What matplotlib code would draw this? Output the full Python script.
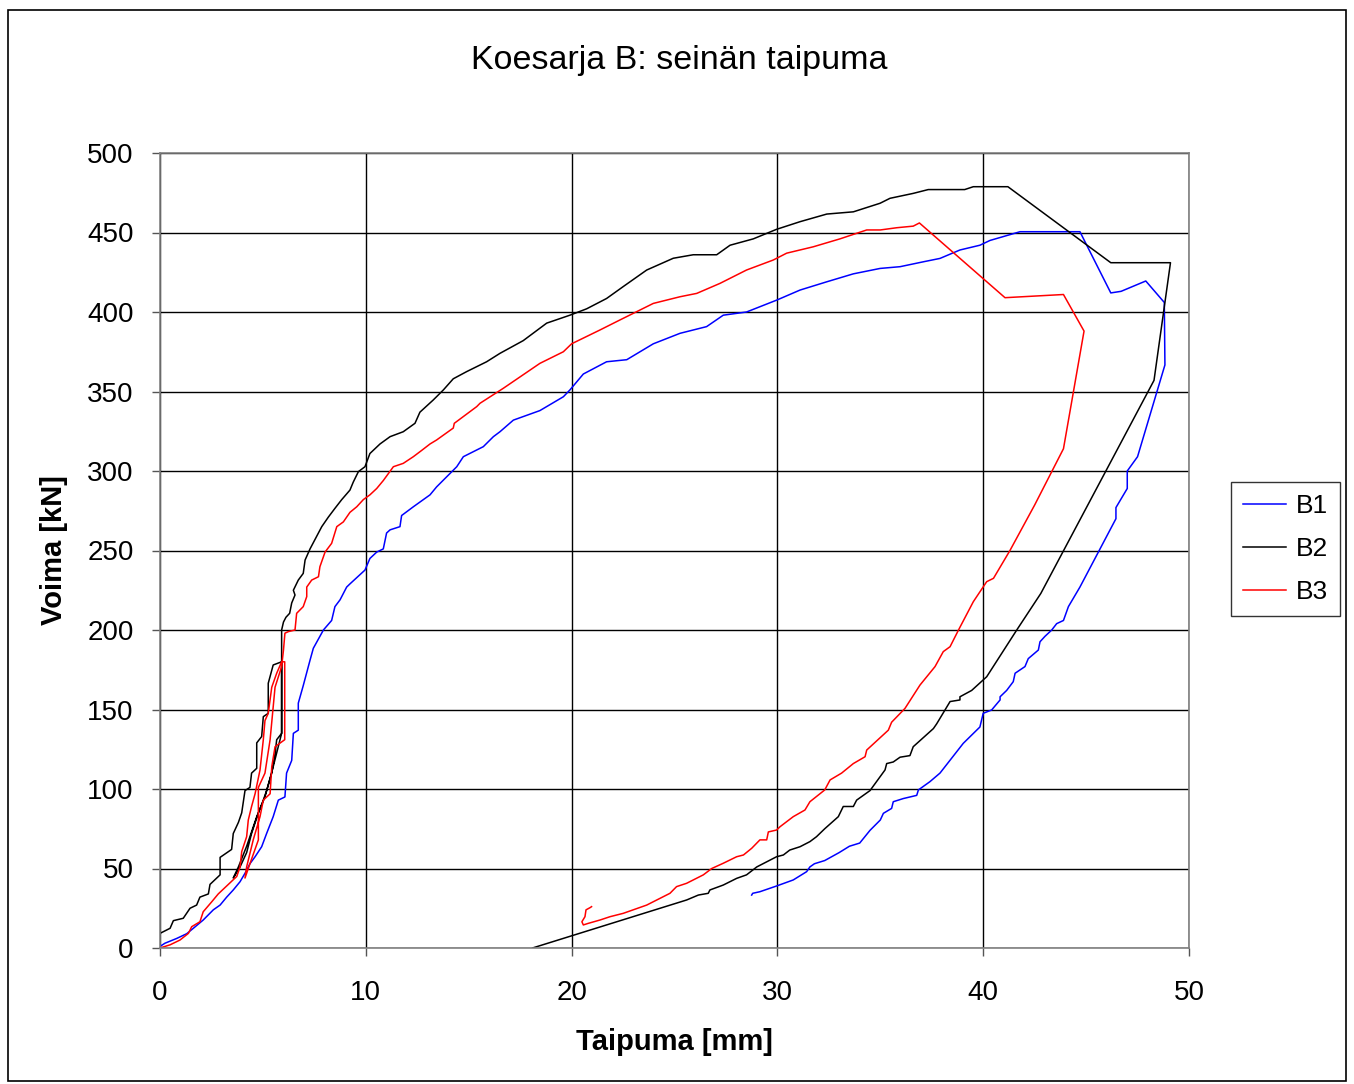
import matplotlib
matplotlib.use("Agg")
import matplotlib.pyplot as plt
from matplotlib.patches import Rectangle

plt.rcParams['font.family'] = ['Liberation Sans', 'DejaVu Sans']

# ---- data ----
b1_x = [0, 0.24, 0.81, 1.3, 1.62, 2.1, 2.59, 2.92, 3.24, 3.56, 3.89, 4.13, 4.37, 4.62, 4.94, 5.18, 5.5, 5.75,
        6.07, 6.15, 6.4, 6.48, 6.72, 6.72, 6.96, 7.29, 7.45, 7.94, 8.34, 8.5, 8.75, 9.07, 9.23, 9.96, 10.2, 10.53,
        10.85, 11.01, 11.18, 11.66, 11.74, 12.31, 13.12, 13.44, 14.42, 14.74, 15.71, 16.2, 16.52, 17.17, 18.46,
        19.6, 19.92, 20.57, 21.7, 22.68, 23.97, 25.27, 26.56, 27.37, 28.5, 29.97, 31.1, 32.4, 33.69, 34.99, 35.96,
        37.1, 37.9, 38.87, 39.84, 40.33, 41.79, 44.7, 46.2, 46.7, 47.9, 48.8, 48.83, 47.5, 47.0, 47.0, 46.45,
        46.45, 44.7, 44.14, 43.9, 43.57, 43.33, 43.0, 42.76, 42.68, 42.19, 42.03, 41.55, 41.46, 41.14, 40.82,
        40.82, 40.41, 40.0, 39.84, 39.03, 37.9, 37.41, 36.85, 36.77, 36.12, 35.63, 35.55, 35.15, 35.0, 34.5,
        34.0, 33.5, 33.0, 32.3, 31.8, 31.58, 31.42, 30.77, 29.96, 29.15, 28.8, 28.75]
b1_y = [1, 3, 6, 9, 12.4, 17.6, 24, 27, 32, 36.5, 41.7, 47, 53, 57.4, 63.7, 72, 82.6, 93,
        95, 110, 118, 135, 137, 154, 165, 181, 188.5, 200, 206, 214.7, 219, 227, 229, 237.7, 245, 249,
        251, 261, 263, 265, 272, 277.5, 285, 290, 302.7, 309, 315.3, 321.6, 324.7, 332, 338,
        346.7, 351, 361, 368.7, 370, 380, 386.6, 390.8, 398, 400, 407.5, 413.8, 419, 424, 427.4, 428.5,
        431.6, 433.7, 439, 442, 445, 450.5, 450.5, 412, 413, 419.5, 406, 366.7, 309, 300, 289, 277,
        270, 227, 214.7, 206, 204, 200, 196, 192.6, 187.4, 182, 177, 172.8, 167.5, 162, 158,
        156, 149.7, 147.6, 139, 128.7, 110, 104.6, 99.4, 96, 94, 92, 87.8, 84.7, 80.5, 74,
        66, 64, 60, 55, 53, 51, 48, 42.8, 39, 35.4, 34.4, 33.3]

b2_x = [0, 0.49, 0.65, 1.13, 1.46, 1.78, 1.94, 2.35, 2.43, 2.92, 2.92, 3.48, 3.56, 3.81, 3.97, 4.13, 4.37,
        4.45, 4.7, 4.7, 4.94, 5.02, 5.26, 5.26, 5.5, 5.91,
        5.91, 5.67, 5.59, 5.43, 5.18, 5.02, 4.78, 4.45, 4.21, 3.89, 3.56,
        3.81, 4.21, 4.7, 5.1, 5.5, 5.83, 5.91, 5.91,
        6.0, 6.12, 6.3, 6.4, 6.56, 6.48, 6.72, 6.96, 7.05, 7.29, 7.7, 7.86, 8.18, 8.5, 8.83, 9.23, 9.39, 9.64,
        9.96, 10.2, 10.69, 11.18, 11.82, 12.39, 12.63, 13.28, 13.77, 14.25, 14.9, 15.87, 16.52, 17.65, 18.79,
        19.92, 20.73, 21.7, 22.51, 23.65, 24.94, 25.91, 27.05, 27.7, 28.83, 29.96, 31.1, 32.4, 33.69, 34.99,
        35.47, 36.6, 37.33, 39.1, 39.52, 41.2, 46.2, 49.1, 48.3, 42.8, 41.63, 40.17, 39.44, 38.87, 38.87,
        38.39, 37.74, 37.58, 36.6, 36.44, 35.96, 35.63, 35.31, 35.23, 34.5, 33.85, 33.69, 33.2, 32.96, 32.3,
        31.9, 31.58, 31.1, 30.6, 30.29, 29.96, 29.0, 28.5, 28.02, 27.37, 26.72, 26.64, 26.16, 25.59, 18.1]
b2_y = [9.2, 12.4, 17.2, 18.7, 25, 27, 32, 34, 40, 46, 57, 62, 72, 79, 85, 99, 101,
        110, 113, 129, 133, 145.5, 147.6, 166.5, 178, 180,
        135, 131, 122, 110, 99, 93, 85, 72, 60, 51, 44,
        51, 64, 82.6, 95, 114, 131, 135, 200,
        205, 208, 210.5, 217, 222, 225, 231.4, 235.6, 244, 251, 261, 265, 271, 276.5, 282, 288, 293, 299.6,
        302.7, 311, 317, 321.6, 324.7, 330, 337, 344.7, 351, 358, 362.5, 368.7, 374, 382, 393,
        398, 402, 408.5, 416, 426.4, 433.8, 436, 436, 442, 446, 452, 456.8, 461.6, 463, 468.4,
        471.5, 474.6, 477, 477, 478.8, 478.8, 431, 431, 357, 223, 200, 170.6, 162, 158, 156,
        155, 141, 138, 126.6, 121, 120, 117, 116, 112, 99, 93, 89, 89, 82.6, 75,
        70, 66.9, 63.7, 61.6, 58.5, 57.4, 51, 46, 43.8, 39.6, 36.5, 34.4, 33.3, 30.2, 0]

b3_x = [0, 0.49, 0.97, 1.38, 1.54, 1.94, 2.1, 2.51, 2.83, 3.32, 3.73, 3.89, 3.97, 4.21, 4.29, 4.45, 4.62,
        4.86, 5.02, 5.1, 5.26, 5.43, 5.67, 5.91, 6.06, 6.06, 5.59, 5.43, 5.35, 5.02, 4.86, 4.53, 4.37, 4.21,
        4.13, 4.37, 4.78, 4.78, 5.1, 5.35, 5.59, 5.91, 6.0, 6.07, 6.24, 6.56, 6.64, 6.96, 7.13, 7.13, 7.37,
        7.7, 7.77, 8.02, 8.34, 8.59, 8.91, 9.07, 9.23, 9.56, 9.88, 10.2, 10.53, 10.85, 11.34, 11.82, 12.31,
        12.72, 13.12, 13.44, 14.25, 14.3, 15.39, 15.55, 16.68, 18.46, 19.6, 20.0, 21.38, 22.35, 23.97, 25.27,
        26.08, 27.21, 28.5, 29.8, 30.45, 31.74, 33.04, 34.34, 35.0, 35.8, 36.6, 36.9, 41.06, 43.9, 44.9,
        43.9, 42.5, 41.3, 40.5, 40.17, 39.52, 38.8, 38.39, 38.06, 37.66, 36.93, 36.2, 35.55, 35.39, 34.34,
        34.26, 33.69, 33.12, 32.56, 32.3, 31.58, 31.34, 30.77, 30.13, 29.96, 29.56, 29.48, 29.15, 28.75,
        28.35, 28.02, 27.37, 26.81, 26.4, 25.59, 25.1, 24.78, 23.65, 22.51, 21.87, 21.38, 20.81, 20.57,
        20.5, 20.65, 20.7, 20.9, 20.97]
b3_y = [0, 2, 5, 9.2, 13.4, 16.5, 22.8, 29, 34, 40, 45, 51, 60.6, 70, 80.5, 89, 97,
        112, 131, 143, 147.6, 164, 172.8, 180, 180, 131, 126.6, 114, 97, 93, 82.6, 68, 59.6, 51,
        44, 53, 68, 101, 110, 131, 164, 177, 187.4, 198, 199, 200, 210.5, 214.7, 221, 227, 231.4,
        233.5, 239.8, 249, 254.5, 265, 268, 271, 274, 277.5, 282, 285, 289, 294, 302.7, 304.8, 309,
        313, 317, 319.5, 327, 330, 340.5, 342.6, 352, 367.7, 375, 380, 388.7, 395, 405.4, 409.6,
        411.7, 418, 426.4, 432.7, 437, 441, 446, 451.6, 451.6, 453, 454, 456, 409, 411, 388,
        314, 278.6, 250, 232.5, 230.4, 217.8, 200, 189.5, 186.4, 177, 165.4, 150.7, 142, 137, 124.5,
        120.3, 116, 110, 105.7, 99.4, 92, 86.8, 82.6, 76.3, 74.2, 73, 68, 68, 62.7,
        58.5, 57.4, 53.3, 50, 46, 40.7, 38.6, 34.4, 27, 21.8, 19.7, 17.6, 15.5, 14.5,
        16.5, 19.7, 24, 25.4, 26]

series_names = ["B1", "B2", "B3"]
series_colors = ["#0000FF", "#000000", "#FF0000"]

x_ticks = [0, 10, 20, 30, 40, 50]
y_ticks = [0, 50, 100, 150, 200, 250, 300, 350, 400, 450, 500]

title = "Koesarja B: seinän taipuma"
x_label = "Taipuma [mm]"
y_label = "Voima [kN]"

# ---- figure ----
W, H = 1354, 1084
fig = plt.figure(figsize=(W / 100, H / 100), dpi=100)
fig.patch.set_facecolor("white")
fig.patches.append(Rectangle((8 / W, 3 / H), (1346 - 8) / W, (1076 - 5) / H,
                             transform=fig.transFigure, fill=False,
                             edgecolor="black", linewidth=1.2))

ax = fig.add_axes([160 / W, 1 - 948 / H, (1189 - 160) / W, (948 - 153) / H])

for xs, ys, name, col in zip([b1_x, b2_x, b3_x], [b1_y, b2_y, b3_y], series_names, series_colors):
    ax.plot(xs, ys, color=col, linewidth=1.1, label=name)

ax.set_xlim(0, 50)
ax.set_ylim(0, 500)
ax.set_xticks(x_ticks)
ax.set_yticks(y_ticks)
ax.tick_params(axis="both", labelsize=20, length=6, width=1, direction="out", color="#555555")
ax.tick_params(axis="y", pad=13)
ax.tick_params(axis="x", pad=17)
ax.grid(True, color="black", linewidth=1.0)
ax.set_axisbelow(True)
for s in ax.spines.values():
    s.set_color("#808080")
    s.set_linewidth(1.2)

ax.set_xlabel(x_label, fontsize=21, fontweight="bold", labelpad=16)
ax.set_ylabel(y_label, fontsize=21, fontweight="bold", labelpad=14)
fig.text(679 / W, 1 - 61 / H, title, fontsize=24.5, ha="center", va="center")

leg = ax.legend(loc="center left", bbox_to_anchor=(1231 / W, 1 - 549 / H),
                bbox_transform=fig.transFigure, fontsize=19, frameon=True,
                fancybox=False, edgecolor="black", handlelength=1.65,
                handletextpad=0.35, borderpad=0.45, labelspacing=0.72, borderaxespad=0)
leg.get_frame().set_linewidth(1.0)

fig.savefig("out.png", dpi=100, facecolor="white")
